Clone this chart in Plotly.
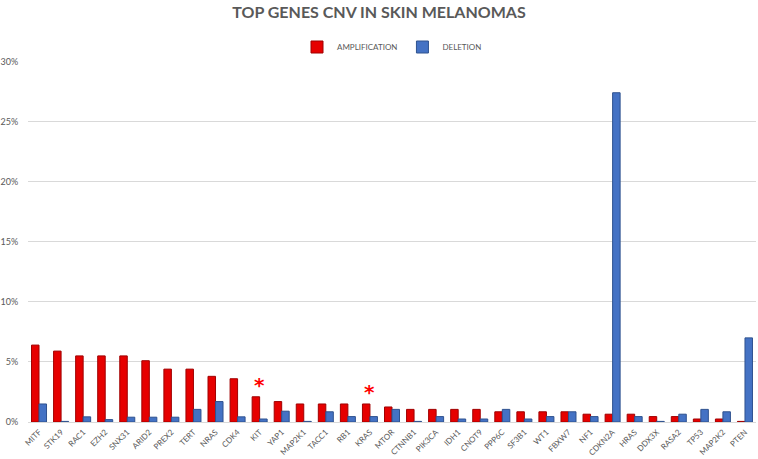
import plotly.graph_objects as go

genes = ["MITF", "STK19", "RAC1", "EZH2", "SNX31", "ARID2", "PREX2", "TERT", "NRAS", "CDK4",
         "KIT", "YAP1", "MAP2K1", "TACC1", "RB1", "KRAS", "MTOR", "CTNNB1", "PIK3CA", "IDH1",
         "CNOT9", "PPP6C", "SF3B1", "WT1", "FBXW7", "NF1", "CDKN2A", "HRAS", "DDX3X", "RASA2",
         "TP53", "MAP2K2", "PTEN"]

amplification = [6.4, 5.9, 5.5, 5.5, 5.5, 5.1, 4.4, 4.4, 3.8, 3.6,
                 2.1, 1.7, 1.5, 1.5, 1.5, 1.5, 1.25, 1.05, 1.05, 1.05,
                 1.05, 0.85, 0.85, 0.85, 0.85, 0.65, 0.65, 0.65, 0.45, 0.45,
                 0.25, 0.25, 0.05]

deletion = [1.5, 0.05, 0.43, 0.2, 0.4, 0.4, 0.4, 1.05, 1.7, 0.43,
            0.25, 0.9, 0.05, 0.85, 0.45, 0.45, 1.05, 0.05, 0.45, 0.25,
            0.25, 1.05, 0.25, 0.45, 0.85, 0.45, 27.4, 0.45, 0.05, 0.65,
            1.05, 0.85, 7.0]

starred = ["KIT", "KRAS"]

y_ticks = [0, 5, 10, 15, 20, 25, 30]
y_tick_labels = ["0%", "5%", "10%", "15%", "20%", "25%", "30%"]

grey = "#595959"

fig = go.Figure()
fig.add_trace(go.Bar(
    x=genes, y=amplification, name="AMPLIFICATION",
    marker=dict(color="#E60000", line=dict(color="#A00000", width=1)),
))
fig.add_trace(go.Bar(
    x=genes, y=deletion, name="DELETION",
    marker=dict(color="#4472C4", line=dict(color="#2F528F", width=1)),
))

for g in starred:
    i = genes.index(g)
    fig.add_annotation(x=g, y=amplification[i], text="<b>*</b>", showarrow=False,
                       yanchor="bottom", yshift=-2,
                       font=dict(color="#FF0000", size=20, family="DejaVu Sans"))

fig.update_layout(
    width=758, height=459,
    paper_bgcolor="white", plot_bgcolor="white",
    margin=dict(l=28, r=2, t=57, b=37),
    barmode="group", bargap=0.32, bargroupgap=0,
    font=dict(family="Lato", color=grey, size=9),
    title=dict(text="<b>TOP GENES CNV IN SKIN MELANOMAS</b>",
               x=0.5, xanchor="center", y=1 - 12 / 459, yanchor="middle",
               yref="container",
               font=dict(family="Lato", size=16, color=grey)),
    legend=dict(orientation="h", x=0.5, xanchor="center",
                yref="container", y=1 - 47 / 459, yanchor="middle",
                font=dict(size=8, color=grey), itemwidth=30,
                bgcolor="rgba(0,0,0,0)"),
    showlegend=True,
)
fig.update_xaxes(tickangle=-45, tickfont=dict(size=8, color=grey), automargin=False,
                 showline=False, ticks="", showgrid=False, ticklabelstandoff=3)
fig.update_yaxes(range=[0, 30], tickvals=y_ticks, ticktext=y_tick_labels,
                 showgrid=True, gridcolor="#D9D9D9", gridwidth=1,
                 zeroline=True, zerolinecolor="#D9D9D9", zerolinewidth=1,
                 tickfont=dict(size=9, color=grey), automargin=False,
                 ticks="outside", ticklen=7, tickcolor="rgba(0,0,0,0)",
                 showline=False)

fig.write_html("out.html", config={"displayModeBar": False},
               post_script="document.body.style.margin='0';")
